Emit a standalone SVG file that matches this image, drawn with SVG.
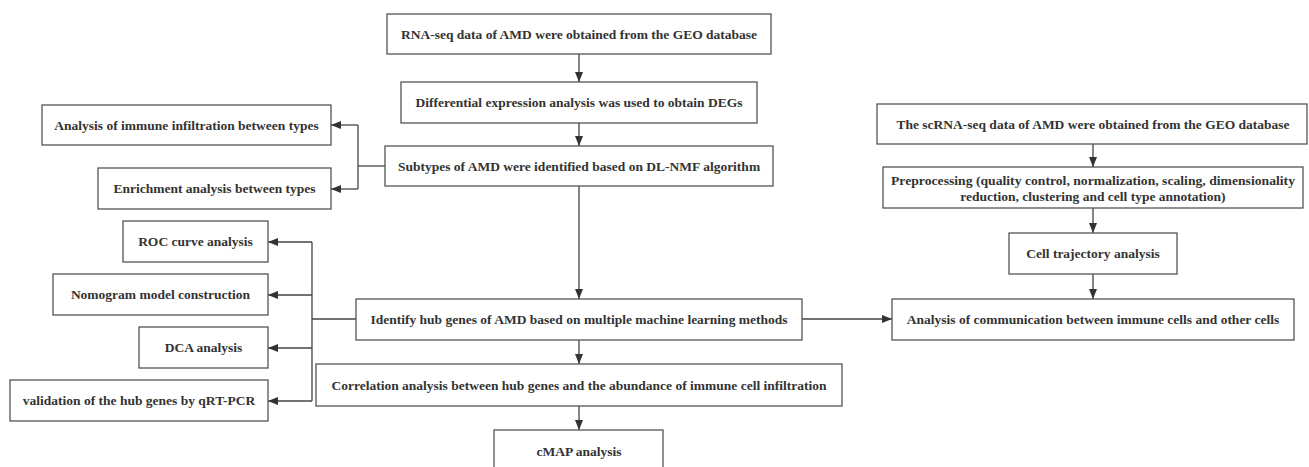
<svg xmlns="http://www.w3.org/2000/svg" width="1309" height="467" viewBox="0 0 1309 467">
<style>
rect{fill:#fff;stroke:#555;stroke-width:1.3}
text{font-family:'Liberation Serif','Times New Roman',Times,serif;font-weight:700;font-size:13.5px;fill:#333;text-anchor:middle}
.c path{fill:none;stroke:#444;stroke-width:1.3}
</style>
<defs>
<marker id="a" markerUnits="userSpaceOnUse" markerWidth="10" markerHeight="10" viewBox="0 0 10 10" refX="10" refY="5" orient="auto">
<path d="M0,1 L10,5 L0,9 Z" fill="#333"/>
</marker>
</defs>
<rect x="0" y="0" width="1309" height="467" style="stroke:none"/>
<g class="c" id="connectors">
<path d="M579,54 V82" marker-end="url(#a)"/>
<path d="M579,123 V146" marker-end="url(#a)"/>
<path d="M579,186 V299" marker-end="url(#a)"/>
<path d="M385,166 H358"/>
<path d="M358,125 V189"/>
<path d="M358,125 H331" marker-end="url(#a)"/>
<path d="M358,189 H331" marker-end="url(#a)"/>
<path d="M356,319 H312"/>
<path d="M312,242 V401"/>
<path d="M312,242 H268" marker-end="url(#a)"/>
<path d="M312,295 H268" marker-end="url(#a)"/>
<path d="M312,348 H268" marker-end="url(#a)"/>
<path d="M312,401 H268" marker-end="url(#a)"/>
<path d="M579,340 V364" marker-end="url(#a)"/>
<path d="M579,406 V430" marker-end="url(#a)"/>
<path d="M802,319 H892" marker-end="url(#a)"/>
<path d="M1093,144 V167" marker-end="url(#a)"/>
<path d="M1093,208 V233" marker-end="url(#a)"/>
<path d="M1093,274 V299" marker-end="url(#a)"/>
</g>
<g id="rna"><rect x="387" y="14" width="384" height="40"/><text x="579" y="39">RNA-seq data of AMD were obtained from the GEO database</text></g>
<g id="diff"><rect x="401" y="82" width="356" height="41"/><text x="579" y="107">Differential expression analysis was used to obtain DEGs</text></g>
<g id="sub"><rect x="385" y="146" width="388" height="40"/><text x="579" y="171">Subtypes of AMD were identified based on DL-NMF algorithm</text></g>
<g id="immune"><rect x="42" y="105" width="289" height="40"/><text x="186.5" y="130">Analysis of immune infiltration between types</text></g>
<g id="enrich"><rect x="98" y="168" width="233" height="41"/><text x="214.5" y="193">Enrichment analysis between types</text></g>
<g id="roc"><rect x="123" y="221" width="145" height="41"/><text x="195.5" y="246">ROC curve analysis</text></g>
<g id="nomo"><rect x="53" y="274" width="215" height="41"/><text x="160.5" y="299">Nomogram model construction</text></g>
<g id="dca"><rect x="139" y="327" width="129" height="41"/><text x="203.5" y="352">DCA analysis</text></g>
<g id="valid"><rect x="10" y="380" width="258" height="41"/><text x="139" y="405">validation of the hub genes by qRT-PCR</text></g>
<g id="hub"><rect x="356" y="299" width="446" height="41"/><text x="579" y="324">Identify hub genes of AMD based on multiple machine learning methods</text></g>
<g id="corr"><rect x="316" y="364" width="526" height="42"/><text x="579" y="390">Correlation analysis between hub genes and the abundance of immune cell infiltration</text></g>
<g id="cmap"><rect x="494" y="430" width="169" height="41"/><text x="579" y="456">cMAP analysis</text></g>
<g id="scrna"><rect x="877" y="104" width="430" height="40"/><text x="1093" y="129">The scRNA-seq data of AMD were obtained from the GEO database</text></g>
<g id="pre"><rect x="883" y="167" width="420" height="41"/><text x="1093" y="185" textLength="404" lengthAdjust="spacingAndGlyphs">Preprocessing (quality control, normalization, scaling, dimensionality</text><text x="1093" y="201">reduction, clustering and cell type annotation)</text></g>
<g id="traj"><rect x="1009" y="233" width="168" height="41"/><text x="1093" y="258">Cell trajectory analysis</text></g>
<g id="comm"><rect x="892" y="299" width="402" height="41"/><text x="1093" y="324">Analysis of communication between immune cells and other cells</text></g>
</svg>
